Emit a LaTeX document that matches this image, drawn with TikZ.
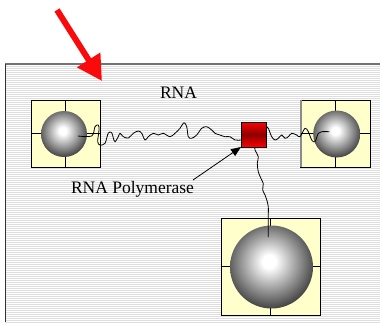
\documentclass[tikz,border=0pt]{standalone}
\usepackage{fontspec}
\setmainfont{Liberation Serif}
\usetikzlibrary{arrows.meta}
\definecolor{boxyellow}{RGB}{255,255,204}
\definecolor{arrowred}{RGB}{250,10,10}
\pgfdeclareradialshading{sph}{\pgfpoint{-1.5bp}{3.5bp}}{color(0bp)=(white); color(4bp)=(white); color(20bp)=(black!50); color(29.5bp)=(black!80); color(35bp)=(black); color(100bp)=(black)}
\begin{document}
\begin{tikzpicture}[x=1pt,y=-1pt,
  box/.style={rectangle,draw=black,fill=boxyellow,line width=0.8pt,inner sep=0pt,outer sep=0pt},
  crossline/.style={draw=black,line width=0.8pt},
  sphere/.style={circle,shading=sph,inner sep=0pt,outer sep=0pt,draw=none},
  polybox/.style={rectangle,draw=black,line width=0.8pt,inner sep=0pt,outer sep=0pt,
     minimum width=25pt,minimum height=25pt,top color=red,bottom color=red,middle color=red!55!black},
  squiggle/.style={draw=black,line width=0.8pt,line join=round},
  label/.style={font=\fontsize{17.5}{20}\selectfont,inner sep=0pt,anchor=base},
  ptr/.style={draw=black,line width=0.8pt,-{Triangle[length=10pt,width=8pt]}},
  bigarrow/.style={draw=arrowred,line width=6pt,-{Triangle[length=25pt,width=26pt]}},
  hatch/.style={draw=black!13,line width=0.6pt},
  frametop/.style={draw=black!55,line width=1.8pt},
  frameleft/.style={draw=black!80,line width=0.9pt}
]
\useasboundingbox (0,0) rectangle (380,322);
% background with faint horizontal lines
\fill[white] (5,64) rectangle (380,322);
\foreach \yy in {66,68,...,322} \draw[hatch] (5,\yy) -- (380,\yy);
\draw[frametop] (5,64) -- (380,64);
\draw[frameleft] (5,64) -- (5,322);

% left box
\node[box,minimum width=69pt,minimum height=67pt] (b1) at (65.5,133.5) {};
\draw[crossline] (b1.north) -- (b1.south) (b1.west) -- (b1.east);
\node[sphere,minimum size=46pt] (s1) at (64,134) {};

% right box
\node[box,minimum width=70pt,minimum height=67pt] (b2) at (335.7,133.5) {};
\draw[draw=black!45,line width=2pt] (b2.north west) -- (b2.south west);
\draw[crossline] (b2.north) -- (b2.south) (b2.west) -- (b2.east);
\node[sphere,minimum size=47pt] (s2) at (336.7,134) {};

% bottom box
\node[box,minimum width=99pt,minimum height=97pt] (b3) at (270.5,266.5) {};
\draw[crossline] (b3.north) -- (b3.south) (b3.west) -- (b3.east);
\node[sphere,minimum size=83pt] (s3) at (271.5,267) {};

% polymerase
\node[polybox] (pol) at (253.5,134.5) {};

% RNA strands
\coordinate (lstart) at (78,136);
\coordinate (rend) at (329.3,131.7);
\coordinate (bend) at (268.3,237);
\draw[squiggle] plot[smooth,tension=0.55] coordinates {(lstart) (91.7,136) (95,126.7) (98.3,125) (99,130) (97.7,141.7) (100,145) (105,143.3) (108.3,133) (111.7,132.7) (113.3,138) (115,141.7) (118.3,136.7) (120,133.3) (123.3,136.7) (128.3,138) (133.3,133.3) (138.3,131) (141.7,133.3) (145,140) (148.3,136.7) (153.3,133.3) (158.3,135) (163.3,133.3) (170,136.7) (175,133.3) (180,128.3) (184,122.7) (186.7,126.7) (188.3,136.7) (191.7,138.3) (196.7,135) (201.7,128.3) (206.7,126.7) (211.7,130) (215,133.3) (220,135) (225,136.7) (230,136.7) (235,140) ([yshift=-5.5pt]pol.west)};
\draw[squiggle] plot[smooth,tension=0.55] coordinates {([yshift=8pt]pol.east) (268.3,128.3) (271.7,136.7) (275,140) (278.3,138.3) (281.7,135) (285,138.3) (288.3,136.7) (291.7,133.3) (296.7,135) (300,136.7) (305,128.3) (308.3,131.7) (311.7,140) (315,141.7) (318.3,133.3) (321.7,131.7) (rend)};
\draw[squiggle] plot[smooth,tension=0.55] coordinates {([xshift=1.5pt]pol.south) (255,150) (258.3,156.7) (257.3,163.3) (258.3,171.7) (261.7,180) (263.3,183.3) (262.7,190) (265,195) (267.3,201.7) (268.3,206.7) (268.3,216.7) (268.3,226.7) (bend)};

% labels
\node[label] (rna) at (178.5,98) {RNA};
\node[label] (plabel) at (132.5,193.5) {RNA Polymerase};
\coordinate (tail) at (193,180);
\draw[ptr] (tail) -- (pol.south west);

% big red arrow
\coordinate (ra1) at (57,10);
\coordinate (ra2) at (102,81);
\draw[bigarrow] (ra1) -- (ra2);
\end{tikzpicture}
\end{document}
